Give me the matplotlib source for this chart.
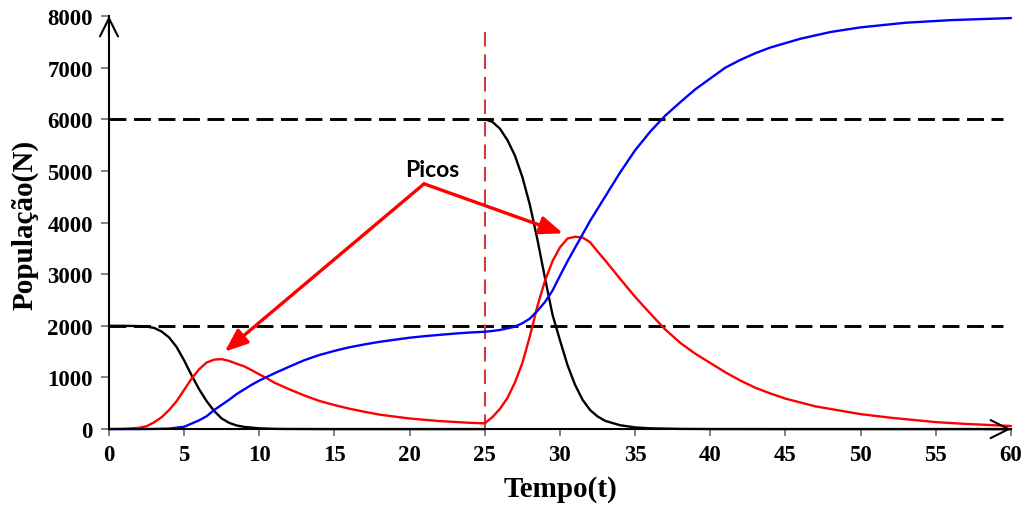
import matplotlib
matplotlib.use("Agg")
import matplotlib.pyplot as plt

# --- data -------------------------------------------------------------
# Susceptible population, first wave (t = 0 .. 25)
t_s1 = [0, 1, 2, 2.5, 3, 3.5, 4, 4.5, 5, 5.5, 6, 6.5, 7, 7.5, 8, 8.5, 9, 10, 11, 12, 15, 20, 25]
s1 = [2000, 2000, 1995, 1985, 1960, 1890, 1775, 1590, 1330, 1040, 770, 540, 350, 205, 120, 70, 42,
      15, 5, 2, 0, 0, 0]

# Susceptible population, second wave (new susceptibles introduced at t = 25)
t_s2 = [25, 25.5, 26, 26.5, 27, 27.5, 28, 28.5, 29, 29.5, 30, 30.5, 31, 31.5, 32, 32.5, 33, 34, 35,
        36, 38, 40, 45, 60]
s2 = [6000, 5950, 5820, 5600, 5300, 4880, 4340, 3670, 2930, 2220, 1720, 1240, 860, 570, 370, 245,
      160, 75, 33, 15, 4, 1, 0, 0]

# Infected population
t_i = [0, 1, 2, 2.5, 3, 3.5, 4, 4.5, 5, 5.5, 6, 6.5, 7, 7.5, 8, 8.5, 9, 9.5, 10, 10.5, 11, 12, 13,
       14, 15, 16, 17, 18, 20, 22, 24, 25, 25.5, 26, 26.5, 27, 27.5, 28, 28.5, 29, 29.5, 30, 30.5,
       31, 31.5, 32, 32.5, 33, 34, 35, 36, 37, 38, 39, 40, 41, 42, 43, 44, 45, 47, 50, 52, 55, 57,
       60]
infected = [0, 4, 25, 55, 130, 230, 370, 540, 760, 980, 1160, 1290, 1345, 1355, 1320, 1265, 1215,
            1140, 1060, 985, 900, 770, 650, 545, 465, 395, 335, 280, 205, 155, 122, 112, 230, 390,
            600, 900, 1280, 1800, 2380, 2870, 3250, 3520, 3690, 3725, 3710, 3620, 3440, 3270,
            2910, 2560, 2240, 1930, 1670, 1460, 1280, 1100, 940, 800, 690, 590, 440, 290, 220,
            135, 100, 60]

# Recovered population
t_r = [0, 2, 3, 4, 5, 6, 6.5, 7, 7.5, 8, 8.5, 9, 9.5, 10, 10.5, 11, 12, 13, 14, 15, 16, 17, 18,
       19, 20, 21, 22, 23, 24, 25, 25.5, 26, 26.5, 27, 27.5, 28, 28.5, 29, 29.5, 30, 30.5, 31,
       31.5, 32, 33, 34, 35, 36, 37, 38, 39, 40, 41, 42, 43, 44, 46, 48, 50, 53, 56, 60]
recovered = [0, 1, 3, 10, 45, 170, 250, 370, 470, 570, 680, 770, 860, 940, 1010, 1080, 1210, 1335,
             1435, 1515, 1585, 1640, 1690, 1730, 1770, 1800, 1825, 1850, 1870, 1885, 1900, 1920,
             1950, 1985, 2050, 2140, 2290, 2460, 2680, 2970, 3250, 3510, 3770, 4030, 4500, 4970,
             5400, 5760, 6070, 6330, 6580, 6790, 7000, 7150, 7280, 7390, 7560, 7690, 7780, 7870,
             7920, 7960]

levels = [2000, 6000]          # population levels marked with dashed lines
t_switch = 25                  # time of the second introduction
x_ticks = list(range(0, 61, 5))
y_ticks = list(range(0, 8001, 1000))
peak_label = "Picos"
peak_apex = (20.96, 4750)
peak_targets = [(7.7, 1500), (30.2, 3790)]

# --- figure -----------------------------------------------------------
fig = plt.figure(figsize=(10.27, 5.06), dpi=100)
ax = fig.add_axes([0.1061, 0.150, 0.8783, 0.8164])
ax.set_xlim(0, 60)
ax.set_ylim(0, 8000)

# reference levels
for lv in levels:
    ax.plot([0, 59.5], [lv, lv], color="black", lw=2.1, dashes=(5.8, 2.6), zorder=1)
ax.plot([t_switch, t_switch], [0, 7830], color="#d03a3a", lw=1.5, dashes=(7, 3.8), zorder=1)

line_kw = dict(lw=1.7, zorder=3, clip_on=False, solid_joinstyle="round",
               solid_capstyle="round")
ax.plot(t_s1, s1, color="black", **line_kw)
ax.plot(t_s2, s2, color="black", **line_kw)
ax.plot(t_i, infected, color="#ff0000", **line_kw)
ax.plot(t_r, recovered, color="#0000ff", **line_kw)

# peak annotation
ax.text(21.5, 4903, peak_label, ha="center", va="baseline", fontsize=16.5,
        fontweight="bold", family="Lato", color="black", zorder=5)
for tgt in peak_targets:
    ax.annotate("", xy=tgt, xytext=peak_apex,
                arrowprops=dict(arrowstyle="-|>,head_length=1.4,head_width=0.55",
                                mutation_scale=10, color="#ff0000", lw=2.4,
                                shrinkA=0, shrinkB=0), zorder=5)

# axes styling
for side in ("top", "right"):
    ax.spines[side].set_visible(False)
for side in ("left", "bottom"):
    ax.spines[side].set_linewidth(1.5)
    ax.spines[side].set_color("black")
    ax.spines[side].set_zorder(4)

arrow_kw = dict(arrowstyle="->,head_length=1.3,head_width=0.65", mutation_scale=10,
                color="black", lw=1.5, shrinkA=0, shrinkB=0)
ax.annotate("", xy=(1.0, 0), xycoords="axes fraction", xytext=(0.97, 0),
            textcoords="axes fraction", arrowprops=arrow_kw, annotation_clip=False)
ax.annotate("", xy=(0, 1.0), xycoords="axes fraction", xytext=(0, 0.95),
            textcoords="axes fraction", arrowprops=arrow_kw, annotation_clip=False)

ax.set_xticks(x_ticks)
ax.set_yticks(y_ticks)
tick_font = dict(family="Liberation Serif", weight="bold", size=16.5)
ax.set_xticklabels([str(v) for v in x_ticks], fontdict=tick_font)
ax.set_yticklabels([str(v) for v in y_ticks], fontdict=tick_font)
ax.tick_params(axis="x", direction="out", length=5, width=1.3, color="#777777", pad=6)
ax.tick_params(axis="y", direction="out", length=5.5, width=1.3, color="#777777", pad=6)

fig.text(25 / 1027, 1 - 225 / 506, "População(N)", rotation=90, ha="center", va="center",
         family="Liberation Serif", fontweight="bold", fontsize=21)
fig.text(560 / 1027, 1 - 490 / 506, "Tempo(t)", ha="center", va="center",
         family="Liberation Serif", fontweight="bold", fontsize=21)

fig.savefig("out.png", dpi=100, facecolor="white")
